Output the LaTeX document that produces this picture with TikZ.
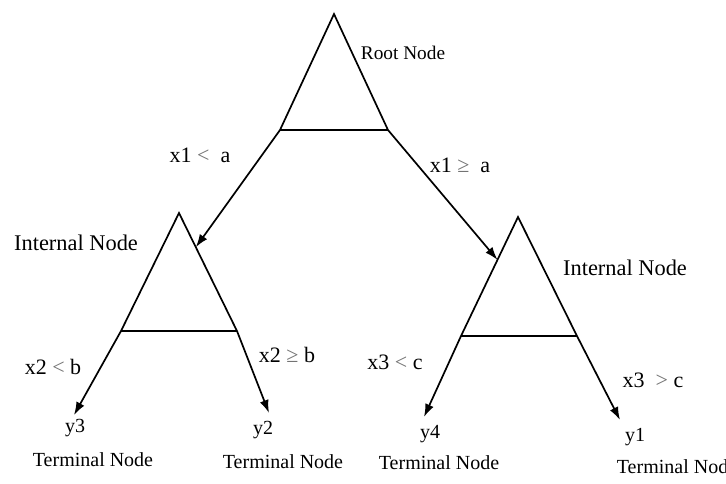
\documentclass[tikz,border=0pt]{standalone}
\usepackage{fontspec}
\setmainfont{Liberation Serif}
\usetikzlibrary{arrows.meta,calc}
\begin{document}
\begin{tikzpicture}[x=1pt,y=-1pt,
  line width=1.7pt, line join=miter,
  lbl/.style={inner sep=0pt, font=\fontsize{20}{24}\selectfont},
  cond/.style={inner sep=0pt, font=\fontsize{22}{26}\selectfont},
  branch/.style={-{Latex[length=13pt,width=9pt]}},
  tree/.style={line width=1.7pt}]
\useasboundingbox (0,0) rectangle (726,483);

% triangle corners: apex, base-left, base-right
\coordinate (rA) at (334,14);  \coordinate (rL) at (280,130); \coordinate (rR) at (388,130);
\coordinate (aA) at (179,213); \coordinate (aL) at (121,331); \coordinate (aR) at (237,331);
\coordinate (bA) at (518,217); \coordinate (bL) at (461,336); \coordinate (bR) at (577,336);

% split nodes
\draw[tree] (rL) -- (rA) -- (rR) (rL) -- (rR);
\draw[tree] (aL) -- (aA) -- (aR) (aL) -- (aR);
\draw[tree] (bL) -- (bA) -- (bR) (bL) -- (bR);

% arrow ends
\coordinate (aHit) at ($(aA)!0.29!(aR)$);
\coordinate (bHit) at ($(bA)!0.36!(bL)$);
\coordinate (t3) at (74,415);
\coordinate (t2) at (269,413);
\coordinate (t4) at (424,417);
\coordinate (t1) at (620,420);

\draw[branch] (rL) -- (aHit);
\draw[branch] (rR) -- (bHit);
\draw[branch] (aL) -- (t3);
\draw[branch] (aR) -- (t2);
\draw[branch] (bL) -- (t4);
\draw[branch] (bR) -- (t1);

% labels
\node[lbl, font=\fontsize{19.3}{23}\selectfont] (root) at (403,53) {Root Node};
\node[lbl, font=\fontsize{22.4}{26}\selectfont] (intA) at (76,243) {Internal Node};
\node[lbl, font=\fontsize{22.4}{26}\selectfont] (intB) at (625,268) {Internal Node};

\node[cond] (c1) at (200,155) {x1 \textcolor{black!55}{<}\ \ a};
\node[cond] (c2) at (460,165) {x1 \textcolor{black!55}{≥}\ \ a};
\node[cond] (c3) at (53,367) {x2 \textcolor{black!55}{<} b};
\node[cond] (c4) at (287,355) {x2 \textcolor{black!55}{≥} b};
\node[cond] (c5) at (395,362) {x3 \textcolor{black!55}{<} c};
\node[cond] (c6) at (653,380) {x3 \ \textcolor{black!55}{>} c};

\node[lbl] (y3) at (75,428) {y3};
\node[lbl] (y2) at (263,430) {y2};
\node[lbl] (y4) at (430,434) {y4};
\node[lbl] (y1) at (635,437) {y1};

\node[lbl] (term3) at (93,460) {Terminal Node};
\node[lbl] (term2) at (283,462) {Terminal Node};
\node[lbl] (term4) at (439,463) {Terminal Node};
\node[lbl] (term1) at (677,467) {Terminal Node};
\end{tikzpicture}
\end{document}
